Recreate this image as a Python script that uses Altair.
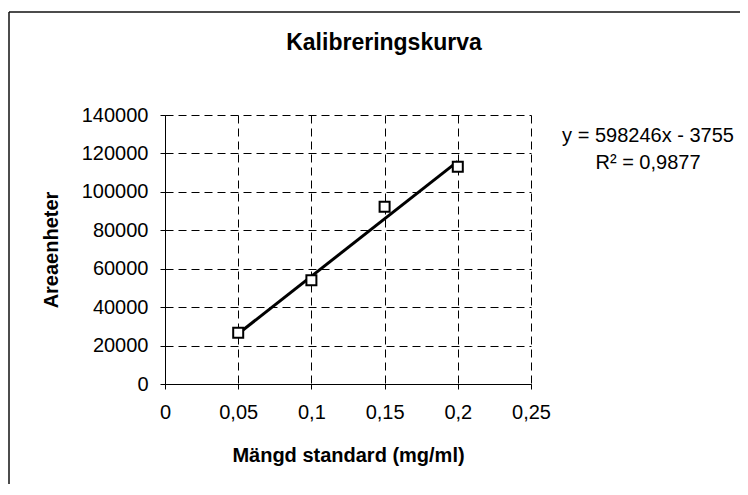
import altair as alt
import pandas as pd

# ---- data ----
conc = [0.05, 0.1, 0.15, 0.2]            # Mängd standard (mg/ml)
area = [26700, 54000, 92300, 113100]     # Areaenheter
x_ticks = [0, 0.05, 0.1, 0.15, 0.2, 0.25]
y_ticks = [0, 20000, 40000, 60000, 80000, 100000, 120000, 140000]
slope = 598246
intercept = -3755
trend_x = [0.05, 0.2]
title_text = "Kalibreringskurva"
eq_line1 = "y = 598246x - 3755"
eq_line2 = "R² = 0,9877"
x_title = "Mängd standard (mg/ml)"
y_title = "Areaenheter"

FONT = "Liberation Sans"
W, H = 366, 269

pts = pd.DataFrame({"x": conc, "y": area})
trend = pd.DataFrame({"x": trend_x})
one = pd.DataFrame({"a": [0]})

xs = alt.Scale(domain=[0, 0.25], nice=False, zero=False)
ys = alt.Scale(domain=[0, 140000], nice=False)

common_axis = dict(
    grid=True, gridDash=[8, 5], gridColor="black", gridOpacity=1, gridWidth=1,
    domainColor="black", domainWidth=1, tickColor="black", tickSize=5, tickWidth=1,
    labelFont=FONT, labelFontSize=20, labelColor="black", labelFlush=False,
    labelOverlap=False, titleFont=FONT, titleFontSize=20, titleFontWeight="bold",
    titleColor="black", titleAlign="center", titleBaseline="middle",
)

xaxis = alt.Axis(values=x_ticks, title=x_title, tickCount=len(x_ticks),
                 labelExpr="replace(toString(datum.value), '.', ',')",
                 labelPadding=13, titleX=W / 2, titleY=71, **common_axis)
yaxis = alt.Axis(values=y_ticks, title=y_title, format="d", tickCount=len(y_ticks),
                 labelPadding=12, titleX=-114, titleY=H / 2, titleAngle=270,
                 **common_axis)

base_points = alt.Chart(pts).mark_point(
    shape="square", filled=True, fill="white", stroke="black",
    strokeWidth=2, size=100, opacity=1
).encode(
    x=alt.X("x:Q", scale=xs, axis=xaxis),
    y=alt.Y("y:Q", scale=ys, axis=yaxis),
)

trend_line = alt.Chart(trend).transform_calculate(
    y=f"{slope} * datum.x + ({intercept})"
).mark_line(color="black", strokeWidth=3).encode(
    x=alt.X("x:Q", scale=xs, axis=xaxis),
    y=alt.Y("y:Q", scale=ys, axis=yaxis),
)

title_mark = alt.Chart(one).mark_text(
    font=FONT, fontSize=23, fontWeight="bold", color="black",
    align="center", baseline="middle"
).encode(x=alt.value(219), y=alt.value(-72), text=alt.value(title_text))

eq1 = alt.Chart(one).mark_text(
    font=FONT, fontSize=20, color="black", align="center", baseline="middle"
).encode(x=alt.value(483), y=alt.value(21), text=alt.value(eq_line1))

eq2 = alt.Chart(one).mark_text(
    font=FONT, fontSize=20, color="black", align="center", baseline="middle"
).encode(x=alt.value(483), y=alt.value(48), text=alt.value(eq_line2))

border_left = alt.Chart(one).mark_rule(color="#111111", strokeWidth=1.5).encode(
    x=alt.value(-156), y=alt.value(-103), y2=alt.value(H + 150))
border_top = alt.Chart(one).mark_rule(color="#111111", strokeWidth=1.5).encode(
    x=alt.value(-156), x2=alt.value(W + 250), y=alt.value(-103))

chart = alt.layer(
    trend_line, base_points, title_mark, eq1, eq2, border_left, border_top
).resolve_axis(y="shared", x="shared").properties(
    width=W, height=H, autosize="none",
    padding={"left": 157, "top": 107, "right": 209, "bottom": 100},
    background="white",
).configure_view(stroke=None)

chart.save("out.html", embed_options={"renderer": "svg", "actions": False})
